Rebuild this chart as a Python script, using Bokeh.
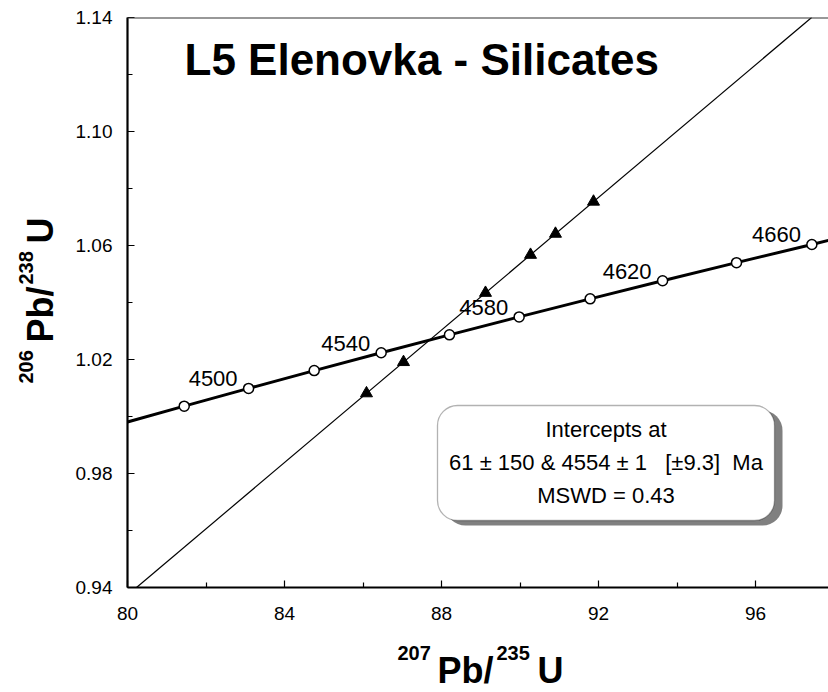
import math
from bokeh.plotting import figure
from bokeh.layouts import row, column
from bokeh.models import (Range1d, FixedTicker, PrintfTickFormatter, Label,
                          BoxAnnotation, Span, ColumnDataSource)
from bokeh.transform import dodge
from bokeh.core.properties import value
from bokeh.embed import file_html
from bokeh.resources import INLINE

# ---------------- data ----------------
# concordia points (open circles), ages in Ma
conc_age = [4480, 4500, 4520, 4540, 4560, 4580, 4600, 4620, 4640, 4660]
conc_x = [81.445, 83.085, 84.757, 86.463, 88.203, 89.978, 91.787, 93.633, 95.516, 97.436]
conc_y = [1.00363, 1.00986, 1.01610, 1.02237, 1.02865, 1.03495, 1.04128, 1.04762, 1.05398, 1.06037]
# concordia curve (including its ends at the plot edges)
curve_x = [79.8, 81.445, 83.085, 84.757, 86.463, 88.203, 89.978, 91.787, 93.633, 95.516, 97.436, 98.0]
curve_y = [0.9973, 1.00363, 1.00986, 1.01610, 1.02237, 1.02865, 1.03495, 1.04128, 1.04762, 1.05398, 1.06037, 1.06225]
labelled_ages = [4500, 4540, 4580, 4620, 4660]

# measured samples (filled triangles)
samp_x = [86.089, 87.032, 89.121, 90.268, 90.904, 91.873]
samp_y = [1.00813, 1.01909, 1.04338, 1.05672, 1.06412, 1.07538]

# discordia line end points
disc_x = [80.23, 97.43]
disc_y = [0.94, 1.14]

x_ticks = [80, 84, 88, 92, 96]
x_minor = [82, 86, 90, 94, 98]
y_ticks = [0.94, 0.98, 1.02, 1.06, 1.10, 1.14]
y_minor = [0.96, 1.00, 1.04, 1.08, 1.12]

title_text = "L5 Elenovka - Silicates"
box_lines = ["Intercepts at",
             "61 \u00b1 150 & 4554 \u00b1 1\u00a0\u00a0\u00a0[\u00b19.3]\u00a0\u00a0Ma",
             "MSWD = 0.43"]
x_title_parts = ["207", "Pb/", "235", "U"]
y_title_parts = ["206", "Pb/", "238", "U"]

# ---------------- layout ----------------
W, H = 828, 692
LEFT_W = 62            # width of the strip holding the y title
MAIN_H = 640           # height of the main plot (frame + tick labels)
LEFT, TOP, BOTTOM = 127, 17, 587
PX_PER_X = 39.25
X0, Y0 = 80.0, 0.94
Y_SCALE = 0.04 / 114.0
x_end = X0 + (W - LEFT) / PX_PER_X
y_end = Y0 + (BOTTOM - TOP) * Y_SCALE
BL = 0.37              # text anchor sits this many em above the baseline

def px2x(px):
    return X0 + (px - LEFT) / PX_PER_X

def py2y(py):
    return Y0 + (BOTTOM - py) * Y_SCALE

def base(py, size):
    """anchor position (page px) for a wanted baseline"""
    return py - BL * size

FONT = "Liberation Sans"

p = figure(width=W - LEFT_W, height=MAIN_H, output_backend="svg", toolbar_location=None,
           x_range=Range1d(X0, x_end), y_range=Range1d(Y0, y_end),
           min_border_left=LEFT - LEFT_W, min_border_right=0, min_border_top=TOP,
           min_border_bottom=MAIN_H - BOTTOM)
p.outline_line_color = None
p.grid.visible = False
p.background_fill_color = "white"
p.border_fill_color = "white"

for ax, maj, mnr in ((p.xaxis[0], x_ticks, x_minor), (p.yaxis[0], y_ticks, y_minor)):
    ax.ticker = FixedTicker(ticks=maj, minor_ticks=mnr)
    ax.axis_line_width = 2.2
    ax.axis_line_color = "black"
    ax.major_tick_in = 7
    ax.major_tick_out = 0
    ax.minor_tick_in = 5
    ax.minor_tick_out = 0
    ax.major_tick_line_width = 1.2
    ax.minor_tick_line_width = 1.2
    ax.major_label_text_font = FONT
    ax.major_label_text_font_size = "19px"
    ax.major_label_text_color = "black"

p.xaxis[0].formatter = PrintfTickFormatter(format="%d")
p.yaxis[0].formatter = PrintfTickFormatter(format="%.2f")
p.xaxis[0].major_label_standoff = 19
p.yaxis[0].major_label_standoff = 15

# top border
p.add_layout(Span(location=y_end, dimension="width", line_color="#333333", line_width=2))

# discordia
p.line(disc_x, disc_y, line_color="black", line_width=1.2)
# concordia
p.line(curve_x, curve_y, line_color="black", line_width=3)
p.scatter(conc_x, conc_y, marker="circle", size=10, fill_color="white",
          line_color="black", line_width=1.5)
# samples
p.scatter(samp_x, samp_y, marker="triangle", size=12, fill_color="black",
          line_color="black")

# age labels (right end 11 px left of the point, baseline 1.5 px above it)
lab_src = ColumnDataSource(dict(
    x=[conc_x[conc_age.index(a)] for a in labelled_ages],
    y=[conc_y[conc_age.index(a)] for a in labelled_ages],
    t=[str(a) for a in labelled_ages]))
p.text(x=dodge("x", -11 / PX_PER_X), y=dodge("y", (1.5 + BL * 22) * Y_SCALE), text="t",
       source=lab_src, text_align="right", text_baseline="alphabetic",
       text_font=value(FONT), text_font_size="22px", text_color="black")

# title
p.add_layout(Label(x=px2x(184), y=py2y(base(75, 44)), text=title_text, text_font=FONT,
                   text_font_size="44px", text_font_style="bold",
                   text_align="left", text_baseline="alphabetic", text_color="black"))

# intercept box with shadow
bl, br, bt, bb = 437, 774, 405, 520
sdx, sdy = 8, 5
p.add_layout(BoxAnnotation(left=px2x(bl + sdx), right=px2x(br + sdx),
                           top=py2y(bt + sdy), bottom=py2y(bb + sdy),
                           fill_color="#808080", fill_alpha=1.0, line_color=None,
                           border_radius=20))
p.add_layout(BoxAnnotation(left=px2x(bl), right=px2x(br), top=py2y(bt), bottom=py2y(bb),
                           fill_color="white", fill_alpha=1.0, line_color="black",
                           line_width=1.3, border_radius=20))
for txt, bpy in zip(box_lines, [437, 470, 503]):
    p.add_layout(Label(x=px2x(605.5), y=py2y(base(bpy, 22)), text=txt, text_font=FONT,
                       text_font_size="22px", text_align="center",
                       text_baseline="alphabetic", text_color="black"))

# ---------------- axis titles in their own strips ----------------
def strip(width, height, y_range):
    f = figure(width=width, height=height, output_backend="svg", toolbar_location=None,
               x_range=Range1d(0, width), y_range=y_range,
               x_axis_type=None, y_axis_type=None, min_border=0)
    f.outline_line_color = None
    f.grid.visible = False
    f.background_fill_color = "white"
    f.border_fill_color = "white"
    return f

sizes_px = [20, 36, 20, 36]
sizes = ["%dpx" % s for s in sizes_px]

# bottom strip: page pixels x -> x, y -> (H - y)
bot = strip(W, H - MAIN_H, Range1d(0, H - MAIN_H))
xs_start = [397, 437, 496, 537]
xs_base = [660, 683, 660, 683]
bot.text(x=xs_start, y=[H - base(b, s) for b, s in zip(xs_base, sizes_px)],
         text=x_title_parts, text_font=value(FONT), text_font_size=sizes,
         text_font_style="bold", text_align="left", text_baseline="alphabetic",
         text_color="black")

# left strip (its frame is aligned with the main frame, page y TOP..BOTTOM);
# data y = -page y, text rotated 90 deg
lft = strip(LEFT_W, MAIN_H, Range1d(-BOTTOM, -TOP))
ys_start = [383, 342, 284, 243]
ys_base = [33, 53, 33, 53]
lft.text(x=[base(b, s) for b, s in zip(ys_base, sizes_px)],
         y=[-s for s in ys_start], text=y_title_parts,
         angle=math.pi / 2, text_font=value(FONT), text_font_size=sizes,
         text_font_style="bold", text_align="left", text_baseline="alphabetic",
         text_color="black")

layout = column(row(lft, p, spacing=0), bot, spacing=0)
open("out.html", "w").write(file_html(layout, INLINE))
